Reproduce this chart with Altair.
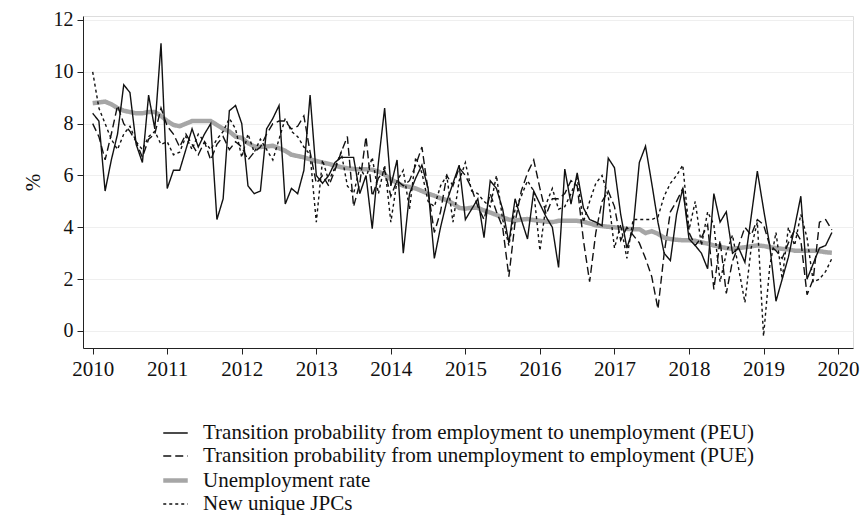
import altair as alt
import pandas as pd

# Monthly observations, Jan 2010 - Dec 2019 (values in %)
series_names = [
    "Transition probability from employment to unemployment (PEU)",
    "Transition probability from unemployment to employment (PUE)",
    "Unemployment rate",
    "New unique JPCs",
]

p_eu = [8.4, 8.1, 5.4, 6.6, 7.6, 9.5, 9.2, 7.2, 6.5, 9.1, 7.8, 11.1,
        5.5, 6.2, 6.2, 7.0, 7.8, 7.1, 7.6, 8.0, 4.3, 5.1, 8.5, 8.7,
        8.0, 5.6, 5.3, 5.4, 7.8, 8.2, 8.7, 4.9, 5.5, 5.3, 6.2, 9.1,
        6.0, 5.7, 6.0, 6.5, 6.7, 6.7, 6.7, 5.3, 6.0, 3.95, 6.5, 8.6,
        5.6, 6.6, 3.0, 5.3, 5.9, 6.4, 5.5, 2.8, 4.0, 5.0, 5.7, 6.4,
        4.3, 4.7, 5.1, 3.6, 5.8, 5.5, 4.7, 3.4, 5.1, 4.3, 3.55, 5.4,
        4.9, 4.4, 4.0, 2.45, 6.25, 4.9, 6.1, 4.75, 4.3, 4.2, 4.06, 6.67,
        6.3, 4.5, 3.2, 3.95, 6.5, 7.13, 5.7, 4.2, 3.0, 2.72, 4.5, 5.5,
        3.55, 3.3, 3.0, 2.4, 5.3, 4.2, 4.6, 3.0, 3.2, 2.65, 4.4, 6.17,
        4.7, 3.3, 1.15, 2.0, 2.85, 4.0, 5.2, 2.0, 2.6, 3.2, 3.3, 3.8]

p_ue = [8.0, 7.5, 6.6, 7.6, 8.7, 8.0, 7.7, 7.3, 6.7, 7.4, 7.6, 8.6,
        7.9, 7.6, 7.1, 7.6, 7.2, 6.8, 7.3, 6.6, 7.2, 7.5, 7.0, 7.3,
        7.1, 6.6, 6.9, 7.1, 7.6, 8.0, 8.1, 8.1, 7.8, 7.9, 8.3, 6.9,
        5.7, 6.0, 5.6, 6.2, 6.9, 7.5, 4.8, 5.7, 7.5, 5.2, 5.9, 6.2,
        5.2, 5.8, 5.6, 5.8, 6.4, 7.1, 5.4, 3.8, 4.6, 6.0, 5.6, 6.3,
        6.0, 5.5, 4.8, 4.3, 5.3, 4.6, 4.0, 2.1, 4.2, 5.4, 6.1, 6.6,
        5.5, 4.5, 5.1, 5.1, 5.3, 5.8, 5.6, 3.5, 1.9, 3.8, 5.0, 5.4,
        4.8, 3.5, 4.0, 3.7, 3.4, 2.8, 2.1, 0.85, 3.0, 4.6, 5.0, 5.5,
        3.8, 3.3, 3.6, 4.1, 1.6, 3.5, 1.45, 2.7, 3.3, 4.0, 3.7, 4.3,
        4.1, 3.3, 3.1, 2.8, 3.4, 3.9, 3.5, 1.4, 2.0, 4.2, 4.3, 3.9]

unemp = [8.79, 8.82, 8.85, 8.75, 8.6, 8.5, 8.45, 8.4, 8.4, 8.45, 8.45, 8.3,
         8.1, 7.95, 7.9, 8.0, 8.1, 8.1, 8.1, 8.1, 7.95, 7.8, 7.7, 7.5,
         7.45, 7.25, 7.12, 7.1, 7.12, 7.15, 7.05, 6.95, 6.8, 6.75, 6.7, 6.62,
         6.56, 6.5, 6.45, 6.38, 6.32, 6.28, 6.25, 6.24, 6.24, 6.22, 6.15, 6.04,
         5.85, 5.72, 5.6, 5.56, 5.5, 5.4, 5.3, 5.22, 5.12, 5.05, 4.92, 4.75,
         4.72, 4.76, 4.75, 4.65, 4.57, 4.48, 4.38, 4.3, 4.26, 4.3, 4.32, 4.28,
         4.25, 4.22, 4.2, 4.25, 4.25, 4.25, 4.25, 4.22, 4.15, 4.08, 4.05, 4.02,
         4.0, 3.97, 3.94, 3.93, 3.93, 3.78, 3.85, 3.75, 3.6, 3.55, 3.52, 3.5,
         3.5, 3.48, 3.42, 3.37, 3.3, 3.25, 3.2, 3.17, 3.2, 3.23, 3.27, 3.3,
         3.28, 3.23, 3.2, 3.17, 3.15, 3.1, 3.1, 3.1, 3.1, 3.08, 3.04, 3.02]

jpc = [10.0, 8.6, 8.0, 7.4, 7.0, 7.6, 7.9, 7.3, 7.0, 7.5, 7.7, 7.2,
       7.3, 6.8, 6.9, 7.5, 7.0, 7.6, 7.3, 7.0, 7.4, 7.7, 8.2, 7.8,
       6.7, 7.6, 6.9, 7.4, 7.0, 6.6, 7.4, 8.2, 7.7, 7.5, 7.1, 6.8,
       4.2, 6.6, 5.8, 6.3, 6.9, 5.6, 5.3, 6.3, 5.9, 6.7, 5.3, 6.4,
       4.2, 5.8, 6.2, 4.7, 6.7, 6.1, 5.0, 4.8, 5.6, 6.0, 4.2, 5.8,
       6.5, 5.4, 5.3, 5.0, 4.8, 6.0, 4.3, 3.3, 4.7, 5.2, 5.8, 5.4,
       3.1, 4.9, 5.5, 4.7, 4.8, 5.3, 5.9, 4.2, 5.0, 5.7, 6.0, 5.2,
       3.2, 4.1, 2.8, 4.3, 4.3, 4.3, 4.3, 4.4, 5.2, 5.7, 6.0, 6.4,
       3.9, 5.0, 3.3, 4.6, 4.1, 1.9, 3.0, 3.7, 2.4, 1.1, 3.2, 4.2,
       -0.2, 2.5, 3.8, 2.0, 4.0, 3.3, 4.5, 3.6, 1.9, 2.0, 2.3, 2.8]

year_ticks = list(range(2010, 2021))
pct_ticks = [0, 2, 4, 6, 8, 10, 12]

rows = []
for name, vals in zip(series_names, [p_eu, p_ue, unemp, jpc]):
    for m, v in enumerate(vals):
        rows.append({"series": name, "t": 2010 + m / 12.0, "v": v})
df = pd.DataFrame(rows)

FONT = "Liberation Serif"

x_enc = alt.X("t:Q",
              scale=alt.Scale(domain=[2009.87, 2020.2], nice=False, zero=False),
              axis=alt.Axis(values=year_ticks, format="d", title=None,
                            grid=False, tickSize=6, labelPadding=4,
                            labelFontSize=21, labelFont=FONT, labelColor="#111",
                            domainColor="#222", tickColor="#222", labelFlush=False))
y_enc = alt.Y("v:Q",
              scale=alt.Scale(domain=[-0.656, 12.154], nice=False, zero=False),
              axis=alt.Axis(values=pct_ticks, title="%", grid=True,
                            gridColor="#efefef", gridWidth=1,
                            tickSize=6, labelPadding=4,
                            labelFontSize=20, labelFont=FONT, labelColor="#111",
                            titleFont=FONT, titleFontSize=21, titleFontWeight="normal",
                            titleColor="#111", titlePadding=10,
                            domainColor="#222", tickColor="#222"))

color_scale = alt.Scale(domain=series_names,
                        range=["#111111", "#111111", "#a6a6a6", "#111111"])
dash_scale = alt.Scale(domain=series_names,
                       range=[[1, 0], [8, 4], [1, 0], [3, 3]])
width_scale = alt.Scale(type="ordinal", domain=series_names,
                        range=[1.4, 1.4, 4.5, 1.4])

legend = alt.Legend(title=None, orient="none", legendX=78, legendY=404,
                    direction="vertical", symbolType="stroke", symbolSize=600,
                    labelFont=FONT, labelFontSize=21, labelColor="#111",
                    labelLimit=800, labelOffset=13, rowPadding=0, padding=0)

enc = dict(
    x=x_enc, y=y_enc,
    color=alt.Color("series:N", scale=color_scale, legend=legend),
    strokeDash=alt.StrokeDash("series:N", scale=dash_scale, legend=legend),
    strokeWidth=alt.StrokeWidth("series:N", scale=width_scale, legend=legend),
)

grey = alt.Chart(df).transform_filter(
    alt.datum.series == "Unemployment rate").mark_line(clip=True).encode(**enc)
black = alt.Chart(df).transform_filter(
    alt.datum.series != "Unemployment rate").mark_line(clip=True).encode(**enc)

chart = alt.layer(grey, black).properties(
    width=770, height=332,
    autosize=alt.AutoSizeParams(type="none"),
    padding={"left": 75, "top": 8, "right": 7, "bottom": 168},
).configure_view(stroke=None).configure(background="white")

chart.save("out.html", embed_options={"renderer": "svg", "actions": False})
